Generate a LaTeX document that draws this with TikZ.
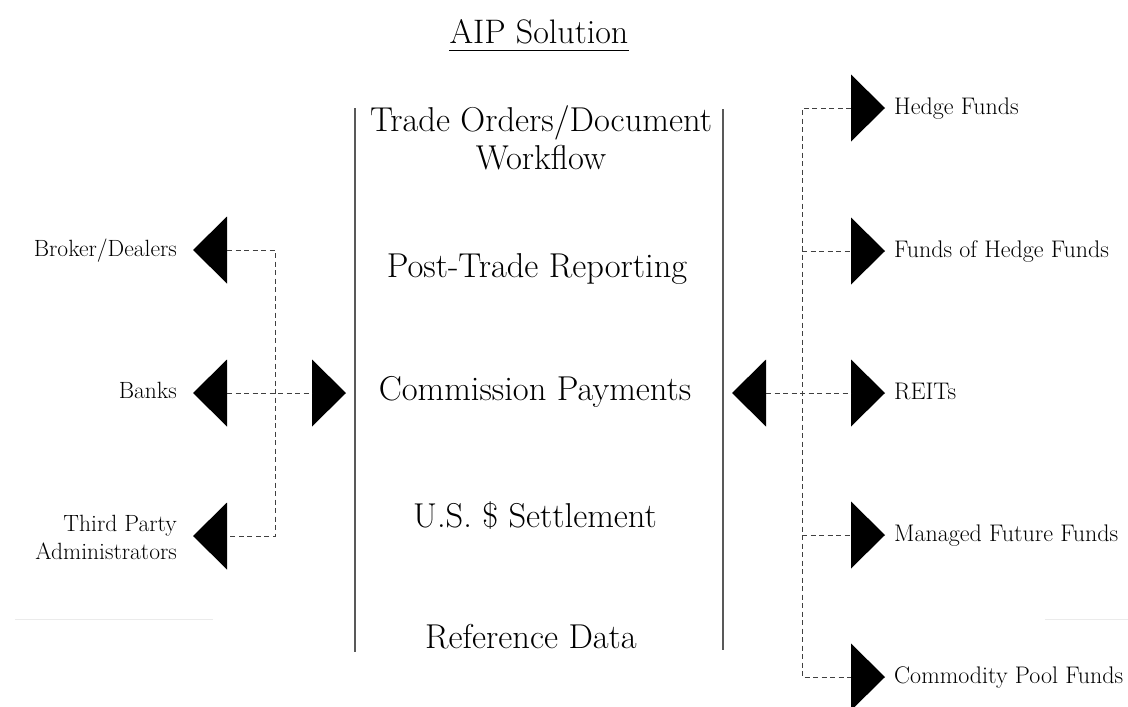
\documentclass[tikz,border=0pt]{standalone}
\usepackage{fontspec}
\newcommand{\TriL}[3]{\fill (#2,#3) -- (#2+34,#3-33.5) -- (#2+34,#3+33.5) -- cycle; \coordinate (#1) at (#2+34,#3);}
\newcommand{\TriR}[3]{\fill (#2,#3-33.5) -- (#2+34,#3) -- (#2,#3+33.5) -- cycle; \coordinate (#1) at (#2,#3);}
\begin{document}
\begin{tikzpicture}[x=1pt,y=-1pt,
  ctext/.style={font=\fontsize{34.5}{38}\selectfont, align=center, inner sep=0pt},
  stext/.style={font=\fontsize{24}{28}\selectfont, inner sep=0pt},
  link/.style={dash pattern=on 5pt off 3.5pt, line width=0.7pt, black!75},
  rail/.style={line width=1.1pt, black!65}]
\useasboundingbox (0,0) rectangle (1128,707);
% title
\node[ctext, font=\fontsize{34}{38}\selectfont, anchor=base] (title) at (539,43) {AIP Solution};
\draw[line width=0.8pt] ([yshift=-7pt]title.base west) -- ([yshift=-7pt]title.base east);
% rails
\draw[rail] (355,108) -- (355,652);
\draw[rail] (723,109) -- (723,650);
% centre texts
\node[ctext] (tow) at (541,138) {Trade Orders/Document\\Workflow};
\node[ctext, anchor=base] (ptr) at (537,277) {Post-Trade Reporting};
\node[ctext, anchor=base] (cp) at (535,400) {Commission Payments};
\node[ctext, anchor=base] (uss) at (535,527) {U.S. \$ Settlement};
\node[ctext, anchor=base] (rd) at (531,648) {Reference Data};
% left triangles
\TriL{bdb}{193}{250}
\TriL{bkb}{193}{393}
\TriL{tpab}{193}{536}
\TriR{cplb}{312}{393}
% right triangles
\TriR{hfb}{851}{108}
\TriR{fhfb}{851}{251}
\TriR{reitb}{851}{393}
\TriR{mffb}{851}{535}
\TriR{cpfb}{851}{677}
\TriL{cprb}{732}{393}
% buses
\coordinate (lbusT) at (275,250);
\coordinate (lbusB) at (275,536);
\coordinate (rbusT) at (802,108);
\coordinate (rbusB) at (802,677);
\draw[link] (bdb) -- (lbusT) -- (lbusB) -- (tpab);
\draw[link] (bkb) -- (cplb);
\draw[link] (hfb) -- (rbusT) -- (rbusB) -- (cpfb);
\draw[link] (rbusT |- fhfb) -- (fhfb);
\draw[link] (rbusT |- mffb) -- (mffb);
\draw[link] (cprb) -- (reitb);
% left labels
\node[stext, font=\fontsize{23.5}{28}\selectfont, anchor=base east] (bd) at (177,256) {Broker/Dealers};
\node[stext, font=\fontsize{23.5}{28}\selectfont, anchor=base east] (bk) at (177,398) {Banks};
\node[stext, font=\fontsize{23.5}{28}\selectfont, anchor=east, align=right] (tpa) at (177,537) {Third Party\\Administrators};
% right labels
\node[stext, anchor=base west] (hf) at (894,114) {Hedge Funds};
\node[stext, anchor=base west] (fhf) at (894,257) {Funds of Hedge Funds};
\node[stext, anchor=base west] (reit) at (894,399) {REITs};
\node[stext, anchor=base west] (mff) at (894,541) {Managed Future Funds};
\node[stext, anchor=base west] (cpf) at (894,683) {Commodity Pool Funds};
% faint scan lines
\draw[black!8, line width=1pt] (15,619) -- (213,619);
\draw[black!8, line width=1pt] (1045,619) -- (1128,619);
\end{tikzpicture}
\end{document}
